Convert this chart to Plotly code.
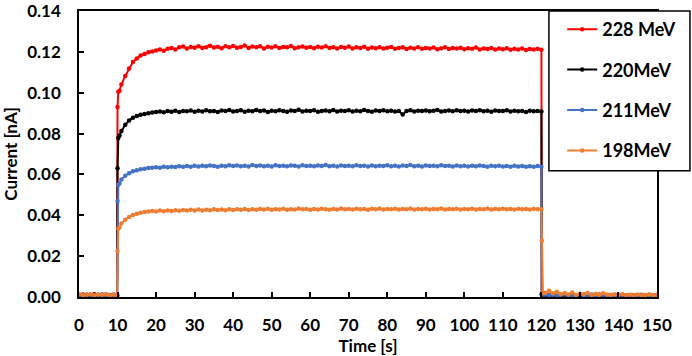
import plotly.graph_objects as go

# ---- sample times [s] ----
t_pre = list(range(0, 10)) + [9.9]
t_jump = [10.0, 10.2, 10.5]
t_main = list(range(11, 121))
t_drop = [120.1, 120.4]
t_post = list(range(121, 151))
time_s = t_pre + t_jump + t_main + t_drop + t_post

series_names = ["228 MeV", "220MeV", "211MeV", "198MeV"]
series_colors = ["#FF0000", "#000000", "#4472C4", "#ED7D31"]

# ---- 228 MeV ----
red_pre = [0.0009, 0.0012, 0.0007, 0.0011, 0.0013, 0.0008, 0.0010, 0.0012, 0.0007, 0.0010, 0.0009]
red_jump = [0.0930, 0.1005, 0.1010]
red_main = [
    0.1040, 0.1082, 0.1118, 0.1150, 0.1168, 0.1182, 0.1190, 0.1198, 0.1202, 0.1207,
    0.1212, 0.1206, 0.1215, 0.1219, 0.1211, 0.1222, 0.1226, 0.1216, 0.1224, 0.1220,
    0.1228, 0.1219, 0.1223, 0.1230, 0.1221, 0.1225, 0.1218, 0.1227, 0.1222, 0.1229,
    0.1220, 0.1224, 0.1231, 0.1219, 0.1226, 0.1222, 0.1228, 0.1217, 0.1225, 0.1221,
    0.1227, 0.1219, 0.1224, 0.1222, 0.1229, 0.1218, 0.1223, 0.1226, 0.1220, 0.1224,
    0.1218, 0.1225, 0.1221, 0.1227, 0.1219, 0.1223, 0.1216, 0.1224, 0.1220, 0.1226,
    0.1217, 0.1222, 0.1219, 0.1225, 0.1215, 0.1221, 0.1218, 0.1223, 0.1216, 0.1220,
    0.1224, 0.1215, 0.1219, 0.1222, 0.1214, 0.1220, 0.1217, 0.1223, 0.1215, 0.1219,
    0.1216, 0.1221, 0.1213, 0.1218, 0.1222, 0.1214, 0.1219, 0.1216, 0.1220, 0.1213,
    0.1218, 0.1215, 0.1221, 0.1212, 0.1217, 0.1214, 0.1219, 0.1211, 0.1216, 0.1213,
    0.1218, 0.1210, 0.1215, 0.1212, 0.1217, 0.1209, 0.1214, 0.1211, 0.1215, 0.1210,
]
red_drop = [0.0015, 0.0010]
red_post = [
    0.0010, 0.0008, 0.0012, 0.0009, 0.0007, 0.0011, 0.0008, 0.0010, 0.0006, 0.0009,
    0.0011, 0.0007, 0.0010, 0.0008, 0.0012, 0.0009, 0.0006, 0.0010, 0.0008, 0.0011,
    0.0007, 0.0009, 0.0006, 0.0010, 0.0008, 0.0011, 0.0007, 0.0009, 0.0008, 0.0010,
]

# ---- 220 MeV ----
black_pre = [0.0008, 0.0010, 0.0006, 0.0009, 0.0011, 0.0007, 0.0009, 0.0006, 0.0010, 0.0008, 0.0007]
black_jump = [0.0630, 0.0778, 0.0790]
black_main = [
    0.0812, 0.0843, 0.0864, 0.0878, 0.0886, 0.0892, 0.0896, 0.0899, 0.0903, 0.0905,
    0.0908, 0.0904, 0.0910, 0.0907, 0.0912, 0.0906, 0.0911, 0.0909, 0.0913, 0.0907,
    0.0912, 0.0908, 0.0914, 0.0909, 0.0911, 0.0906, 0.0913, 0.0910, 0.0915, 0.0908,
    0.0911, 0.0914, 0.0907, 0.0912, 0.0909, 0.0915, 0.0910, 0.0913, 0.0906, 0.0912,
    0.0909, 0.0914, 0.0911, 0.0907, 0.0913, 0.0910, 0.0916, 0.0908, 0.0912, 0.0910,
    0.0914, 0.0907, 0.0911, 0.0913, 0.0909, 0.0915, 0.0908, 0.0912, 0.0910, 0.0914,
    0.0908, 0.0912, 0.0909, 0.0915, 0.0911, 0.0907, 0.0913, 0.0910, 0.0914, 0.0909,
    0.0912, 0.0908, 0.0911, 0.0893, 0.0910, 0.0914, 0.0908, 0.0912, 0.0910, 0.0913,
    0.0909, 0.0912, 0.0915, 0.0908, 0.0911, 0.0913, 0.0909, 0.0914, 0.0910, 0.0912,
    0.0908, 0.0913, 0.0910, 0.0914, 0.0909, 0.0912, 0.0907, 0.0913, 0.0910, 0.0911,
    0.0914, 0.0908, 0.0912, 0.0909, 0.0911, 0.0906, 0.0912, 0.0909, 0.0911, 0.0908,
]
black_drop = [0.0012, 0.0009]
black_post = [
    0.0006, 0.0004, 0.0008, 0.0005, 0.0007, 0.0003, 0.0006, 0.0004, 0.0007, 0.0005,
    0.0003, 0.0006, 0.0004, 0.0008, 0.0005, 0.0003, 0.0006, 0.0004, 0.0007, 0.0005,
    0.0004, 0.0006, 0.0003, 0.0005, 0.0007, 0.0004, 0.0006, 0.0003, 0.0005, 0.0004,
]

# ---- 211 MeV ----
blue_pre = [0.0011, 0.0008, 0.0012, 0.0009, 0.0007, 0.0011, 0.0013, 0.0008, 0.0010, 0.0012, 0.0009]
blue_jump = [0.0470, 0.0550, 0.0555]
blue_main = [
    0.0575, 0.0594, 0.0606, 0.0615, 0.0621, 0.0625, 0.0628, 0.0631, 0.0633, 0.0635,
    0.0633, 0.0637, 0.0635, 0.0638, 0.0636, 0.0640, 0.0637, 0.0641, 0.0638, 0.0642,
    0.0639, 0.0643, 0.0640, 0.0644, 0.0641, 0.0638, 0.0643, 0.0640, 0.0645, 0.0641,
    0.0644, 0.0640, 0.0643, 0.0639, 0.0646, 0.0641, 0.0644, 0.0640, 0.0643, 0.0639,
    0.0645, 0.0641, 0.0643, 0.0640, 0.0644, 0.0642, 0.0639, 0.0645, 0.0641, 0.0643,
    0.0640, 0.0644, 0.0641, 0.0646, 0.0640, 0.0643, 0.0639, 0.0644, 0.0641, 0.0643,
    0.0640, 0.0645, 0.0641, 0.0643, 0.0639, 0.0644, 0.0640, 0.0643, 0.0641, 0.0645,
    0.0640, 0.0643, 0.0639, 0.0644, 0.0641, 0.0646, 0.0640, 0.0643, 0.0639, 0.0644,
    0.0641, 0.0643, 0.0640, 0.0645, 0.0641, 0.0643, 0.0639, 0.0644, 0.0640, 0.0642,
    0.0639, 0.0643, 0.0640, 0.0644, 0.0641, 0.0638, 0.0642, 0.0640, 0.0643, 0.0639,
    0.0641, 0.0638, 0.0642, 0.0639, 0.0641, 0.0637, 0.0640, 0.0638, 0.0641, 0.0637,
]
blue_drop = [0.0014, 0.0012]
blue_post = [
    0.0012, 0.0009, 0.0011, 0.0008, 0.0010, 0.0012, 0.0007, 0.0010, 0.0009, 0.0011,
    0.0008, 0.0010, 0.0012, 0.0007, 0.0009, 0.0011, 0.0008, 0.0010, 0.0007, 0.0009,
    0.0011, 0.0008, 0.0010, 0.0006, 0.0009, 0.0008, 0.0010, 0.0007, 0.0009, 0.0008,
]

# ---- 198 MeV ----
orange_pre = [0.0013, 0.0009, 0.0011, 0.0014, 0.0008, 0.0012, 0.0010, 0.0013, 0.0009, 0.0011, 0.0010]
orange_jump = [0.0225, 0.0335, 0.0340]
orange_main = [
    0.0360, 0.0378, 0.0392, 0.0401, 0.0408, 0.0412, 0.0416, 0.0418, 0.0421, 0.0419,
    0.0423, 0.0420, 0.0424, 0.0421, 0.0425, 0.0422, 0.0426, 0.0423, 0.0427, 0.0424,
    0.0428, 0.0424, 0.0427, 0.0425, 0.0429, 0.0426, 0.0428, 0.0425, 0.0430, 0.0426,
    0.0429, 0.0427, 0.0431, 0.0426, 0.0429, 0.0427, 0.0431, 0.0428, 0.0432, 0.0427,
    0.0430, 0.0428, 0.0432, 0.0427, 0.0430, 0.0428, 0.0433, 0.0429, 0.0431, 0.0427,
    0.0431, 0.0428, 0.0432, 0.0429, 0.0427, 0.0431, 0.0428, 0.0433, 0.0429, 0.0431,
    0.0428, 0.0432, 0.0429, 0.0431, 0.0427, 0.0432, 0.0429, 0.0433, 0.0428, 0.0431,
    0.0429, 0.0432, 0.0428, 0.0431, 0.0429, 0.0433, 0.0428, 0.0431, 0.0429, 0.0432,
    0.0428, 0.0431, 0.0429, 0.0433, 0.0428, 0.0431, 0.0429, 0.0432, 0.0428, 0.0431,
    0.0429, 0.0432, 0.0428, 0.0431, 0.0430, 0.0433, 0.0428, 0.0431, 0.0429, 0.0432,
    0.0429, 0.0431, 0.0428, 0.0432, 0.0429, 0.0431, 0.0428, 0.0432, 0.0429, 0.0431,
]
orange_drop = [0.0275, 0.0020]
orange_post = [
    0.0021, 0.0030, 0.0018, 0.0026, 0.0014, 0.0019, 0.0012, 0.0022, 0.0010, 0.0016,
    0.0013, 0.0020, 0.0009, 0.0015, 0.0011, 0.0018, 0.0012, 0.0009, 0.0014, 0.0010,
    0.0013, 0.0008, 0.0011, 0.0009, 0.0012, 0.0008, 0.0010, 0.0013, 0.0009, 0.0011,
]

x_ticks = list(range(0, 151, 10))
y_ticks = [0.00, 0.02, 0.04, 0.06, 0.08, 0.10, 0.12, 0.14]

all_series = [
    red_pre + red_jump + red_main + red_drop + red_post,
    black_pre + black_jump + black_main + black_drop + black_post,
    blue_pre + blue_jump + blue_main + blue_drop + blue_post,
    orange_pre + orange_jump + orange_main + orange_drop + orange_post,
]

FONT = "Lato"
fig = go.Figure()
for name, color, vals in zip(series_names, series_colors, all_series):
    fig.add_trace(go.Scatter(
        x=time_s, y=vals, name=name, legendgroup=name,
        mode="lines+markers",
        line=dict(color=color, width=2),
        marker=dict(color=color, size=4.5),
    ))

# legend frame (plot area: 79..657 px wide, 11..297 px tall)
fig.add_shape(
    type="rect", xref="paper", yref="paper",
    x0=0.813, x1=1.057, y0=0.441, y1=1.0,
    fillcolor="white", line=dict(color="#000000", width=1.5), layer="above",
)

axis_font = dict(family=FONT, size=17, color="#000000", weight="bold")
fig.update_layout(
    width=692, height=356,
    margin=dict(l=79, r=35, t=11, b=59),
    paper_bgcolor="white", plot_bgcolor="white",
    font=dict(family=FONT, size=17, color="#000000", weight="bold"),
    showlegend=True,
    legend=dict(
        x=0.836, y=1.0, xanchor="left", yanchor="top",
        bgcolor="rgba(0,0,0,0)", borderwidth=0,
        font=dict(family=FONT, size=18, color="#000000", weight="bold"),
        tracegroupgap=14, itemwidth=30,
    ),
    xaxis=dict(
        range=[0, 150], tickvals=x_ticks, ticktext=[str(v) for v in x_ticks],
        ticks="inside", ticklen=5, tickwidth=1.5, tickcolor="#000000",
        showline=True, linecolor="#000000", linewidth=1.5, mirror=True,
        showgrid=False, zeroline=False, tickfont=axis_font,
        ticklabelstandoff=12, automargin=False, ticklabeloverflow="allow",
        title=dict(text="Time [s]", font=axis_font, standoff=8),
    ),
    yaxis=dict(
        range=[0, 0.14], tickvals=y_ticks, ticktext=[f"{v:.2f}" for v in y_ticks],
        ticks="inside", ticklen=5, tickwidth=1.5, tickcolor="#000000",
        showline=True, linecolor="#000000", linewidth=1.5, mirror=True,
        showgrid=False, zeroline=False, tickfont=axis_font,
        ticklabelstandoff=13, automargin=False, ticklabeloverflow="allow",
        title=dict(text="Current [nA]", font=axis_font, standoff=6),
    ),
)

fig.write_html(
    "out.html",
    config={"displayModeBar": False},
    post_script="document.body.style.margin='0px';",
)
